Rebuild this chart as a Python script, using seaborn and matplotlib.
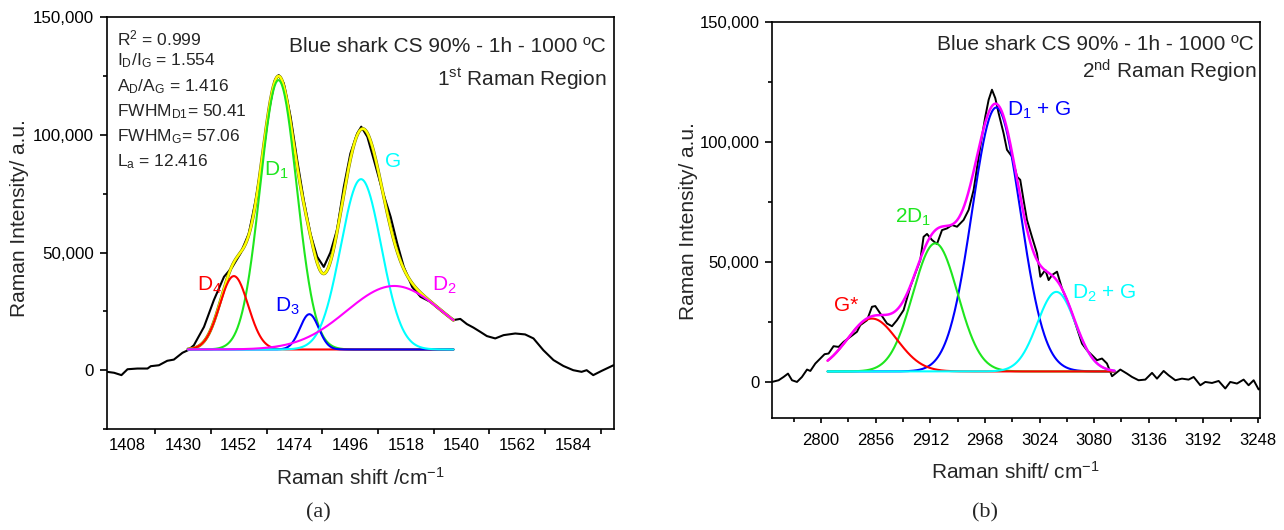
import numpy as np
import pandas as pd
import matplotlib
matplotlib.use("Agg")
import matplotlib.pyplot as plt
import matplotlib.patheffects as pe
import seaborn as sns
from matplotlib.ticker import FixedLocator, FuncFormatter

# ======================= DATA =======================
# ---- Panel (a): 1st Raman region ----
a_raw_x = [1400.0, 1402.8, 1405.7, 1408.1, 1412.0, 1416.0, 1417.3, 1420.5, 1423.8, 1426.4,
           1429.8, 1432.0, 1434.3, 1438.3, 1442.2, 1446.2, 1449.5, 1452.7, 1456.0, 1458.7,
           1461.3, 1463.9, 1466.3, 1467.8, 1469.8, 1472.5, 1475.1, 1477.7, 1480.3, 1483.0,
           1485.6, 1488.2, 1490.9, 1493.5, 1496.1, 1498.8, 1500.4, 1502.8, 1505.4, 1508.7,
           1512.0, 1514.6, 1517.2, 1520.5, 1523.8, 1527.8, 1531.7, 1536.8, 1539.5, 1542.1,
           1544.7, 1547.4, 1550.0, 1553.3, 1556.6, 1561.2, 1565.1, 1568.4, 1572.3, 1576.3,
           1580.2, 1584.1, 1587.4, 1589.4, 1592.0, 1595.3, 1600.0]
a_raw_y = [-700, -1100, -2100, 400, 700, 700, 1700, 2100, 4000, 4500,
           7400, 8500, 10600, 18400, 29800, 39700, 43900, 49600, 58100, 72300,
           89300, 110600, 123300, 125400, 121900, 107700, 89300, 72300, 58100, 48200,
           43900, 50000, 60000, 77900, 92100, 100600, 103500, 99200, 89300, 76500,
           65200, 53900, 43900, 35400, 31200, 29000, 25500, 21300, 21800, 19600,
           18100, 16300, 14500, 13500, 14900, 15600, 15200, 13500, 8500, 4300,
           1800, 0, -700, 0, -2100, -300, 2100]

a_peaks = ["D4", "D1", "D3", "G", "D2"]
a_centers = [1450.1, 1467.7, 1479.9, 1500.3, 1513.4]
a_amps = [31200, 114500, 15000, 72400, 27000]
a_sigmas = [5.6, 7.2, 3.7, 8.0, 18.8]
a_baseline = 8800
a_fit_range = [1432.0, 1536.8]
a_colors = {"D4": "#ff0000", "D1": "#1ee61e", "D3": "#0000ff", "G": "#00ffff", "D2": "#ff00ff"}
a_draw_order = ["D1", "D4", "D3", "G", "D2"]
a_xticklabels = [1408, 1430, 1452, 1474, 1496, 1518, 1540, 1562, 1584]
a_xtickmarks = [1419, 1441, 1463, 1485, 1507, 1529, 1551, 1573, 1595]
a_yticks = [0, 50000, 100000, 150000]
a_yminor = [-25000, 25000, 75000, 125000]
a_stats = [r"R$^2$ = 0.999",
           r"I$_\mathrm{D}$/I$_\mathrm{G}$ = 1.554",
           r"A$_\mathrm{D}$/A$_\mathrm{G}$ = 1.416",
           r"FWHM$_\mathrm{D1}$= 50.41",
           r"FWHM$_\mathrm{G}$= 57.06",
           r"L$_\mathrm{a}$ = 12.416"]
a_peak_labels = [r"D$_4$", r"D$_1$", r"D$_3$", "G", r"D$_2$"]
a_label_x = [1440.5, 1466.9, 1471.3, 1513.1, 1533.2]
a_label_y = [36100, 85000, 27200, 88900, 36100]

# ---- Panel (b): 2nd Raman region ----
b_raw_x = [2749.7, 2756.5, 2761.6, 2766.1, 2770.2, 2775.3, 2780.4, 2785.6, 2789.0, 2794.1,
           2799.2, 2803.6, 2807.7, 2812.8, 2818.0, 2823.1, 2830.0, 2836.8, 2840.2, 2847.1,
           2852.2, 2855.6, 2860.7, 2867.6, 2872.7, 2877.8, 2884.6, 2891.5, 2896.6, 2901.7,
           2905.1, 2908.6, 2913.7, 2918.8, 2924.0, 2929.1, 2934.2, 2939.4, 2946.1, 2951.3,
           2956.4, 2963.2, 2968.4, 2971.8, 2975.2, 2978.6, 2982.0, 2987.1, 2990.6, 2995.7,
           3000.9, 3004.2, 3007.6, 3011.1, 3016.2, 3021.4, 3024.8, 3029.9, 3033.3, 3036.8,
           3041.9, 3047.0, 3052.1, 3057.3, 3062.4, 3067.5, 3072.6, 3077.8, 3082.9, 3088.0,
           3093.1, 3098.3, 3106.8, 3113.6, 3118.8, 3125.5, 3132.4, 3139.3, 3144.4, 3151.2,
           3156.3, 3163.2, 3170.0, 3176.8, 3182.0, 3188.8, 3193.9, 3200.8, 3207.6, 3214.4,
           3219.5, 3226.4, 3233.2, 3238.3, 3243.5, 3248.6, 3250.0]
b_raw_y = [125, 830, 2210, 3600, 830, 125, 2200, 5280, 4700, 7780,
           9870, 11670, 11950, 15000, 14700, 16800, 18900, 21000, 23750, 25800,
           31400, 31700, 28600, 24450, 23300, 25800, 30000, 39700, 45300, 50800,
           60500, 61700, 59200, 57500, 63300, 64000, 65400, 64700, 67500, 71700,
           80000, 98000, 110600, 117500, 121700, 118200, 112000, 103600, 96700, 93900,
           85500, 84200, 75800, 67500, 60500, 53600, 43900, 46700, 42500, 44600,
           46000, 39000, 34200, 28600, 22400, 16100, 13300, 11250, 9170, 9870,
           7800, 2500, 5280, 3600, 2200, 830, 1100, 3900, 1500, 4700,
           2900, 830, 1500, 1100, 2200, -1250, 125, -300, 540, -2600,
           125, -540, 1100, -1250, 830, -3000, -2600]

b_peaks = ["G*", "2D1", "D1+G", "D2+G"]
b_centers = [2852.2, 2917.1, 2979.6, 3041.2]
b_amps = [22000, 53300, 109800, 33100]
b_sigmas = [25.5, 23.0, 24.8, 19.5]
b_baseline = 4500
b_fit_range = [2806.7, 3100.9]
b_colors = {"G*": "#ff0000", "2D1": "#1ee61e", "D1+G": "#0000ff", "D2+G": "#00ffff"}
b_draw_order = ["D1+G", "2D1", "G*", "D2+G"]
b_xticks = [2800, 2856, 2912, 2968, 3024, 3080, 3136, 3192, 3248]
b_xminor = [2772, 2828, 2884, 2940, 2996, 3052, 3108, 3164, 3220]
b_yticks = [0, 50000, 100000, 150000]
b_yminor = [25000, 75000, 125000]
b_peak_labels = [r"G*", r"2D$_1$", r"D$_1$ + G", r"D$_2$ + G"]
b_label_x = [2825.9, 2894.6, 2990.9, 3057.6]
b_label_y = [32100, 68750, 113300, 37100]
b_label_ha = ["center", "center", "left", "left"]

# ======================= STYLE =======================
sns.set_style("ticks")
plt.rcParams.update({
    "font.family": ["Liberation Sans", "DejaVu Sans"],
    "mathtext.fontset": "custom",
    "mathtext.rm": "Liberation Sans",
    "mathtext.it": "Liberation Sans:italic",
    "mathtext.bf": "Liberation Sans:bold",
    "axes.linewidth": 1.2,
    "axes.edgecolor": "black",
    "xtick.color": "black",
    "ytick.color": "black",
})

W, H = 1284, 530
fig = plt.figure(figsize=(W / 100, H / 100), dpi=100)
axA = fig.add_axes([107 / W, 1 - 429 / H, (613.5 - 107) / W, (429 - 17.3) / H])
axB = fig.add_axes([772.3 / W, 1 - 418.3 / H, (1260 - 772.3) / W, (418.3 - 21.7) / H])


def build_fit(names, centers, amps, sigmas, base, rng, n=500):
    xs = np.linspace(rng[0], rng[1], n)
    frames = []
    total = np.full(n, float(base))
    for nm, c, a, s in zip(names, centers, amps, sigmas):
        g = a * np.exp(-0.5 * ((xs - c) / s) ** 2)
        total += g
        frames.append(pd.DataFrame({"x": xs, "y": base + g, "peak": nm}))
    return pd.concat(frames, ignore_index=True), pd.DataFrame({"x": xs, "y": total})


fmt = FuncFormatter(lambda v, p: f"{v:,.0f}")

# ---------------- Panel (a) ----------------
compA, sumA = build_fit(a_peaks, a_centers, a_amps, a_sigmas, a_baseline, a_fit_range)
sns.lineplot(x=a_raw_x, y=a_raw_y, color="black", lw=1.5, ax=axA, sort=False,
             estimator=None, errorbar=None)
sns.lineplot(data=sumA, x="x", y="y", color="#ffff00", lw=1.7, ax=axA, estimator=None,
             errorbar=None)
axA.lines[-1].set_path_effects([pe.Stroke(linewidth=2.3, foreground="#6b6b00"), pe.Normal()])
sns.lineplot(data=compA, x="x", y="y", hue="peak", hue_order=a_draw_order,
             palette=a_colors, lw=1.5, ax=axA, legend=False, estimator=None, errorbar=None)

axA.set_xlim(1400, 1600)
axA.set_ylim(-25000, 150000)
axA.xaxis.set_major_locator(FixedLocator(a_xticklabels))
axA.xaxis.set_minor_locator(FixedLocator(a_xtickmarks))
axA.set_xticklabels([str(v) for v in a_xticklabels])
axA.yaxis.set_major_locator(FixedLocator(a_yticks))
axA.yaxis.set_minor_locator(FixedLocator(a_yminor))
axA.yaxis.set_major_formatter(fmt)
axA.tick_params(axis="x", which="major", length=0, pad=6.5, labelsize=12)
axA.tick_params(axis="x", which="minor", length=3.6, width=1.2, direction="out")
axA.tick_params(axis="y", which="major", length=5, width=1.2, pad=4.5, labelsize=12.2,
                direction="out")
axA.tick_params(axis="y", which="minor", length=3.1, width=1.2, direction="out")
axA.set_xlabel("")
axA.set_ylabel("")

for s, yb in zip(a_stats, [0.9310, 0.8842, 0.8193, 0.7586, 0.6979, 0.6371]):
    axA.text(0.0197, yb, s, transform=axA.transAxes, fontsize=12.5, va="baseline", ha="left")
axA.text(0.9846, 0.9164, "Blue shark CS 90% - 1h - 1000 ºC", transform=axA.transAxes,
         fontsize=15, ha="right", va="baseline")
axA.text(0.9866, 0.8331, r"1$^\mathrm{st}$ Raman Region", transform=axA.transAxes,
         fontsize=15, ha="right", va="baseline")
for lab, x, y, nm in zip(a_peak_labels, a_label_x, a_label_y, a_peaks):
    axA.text(x, y, lab, color=a_colors[nm], fontsize=15, ha="center", va="center")

# ---------------- Panel (b) ----------------
compB, sumB = build_fit(b_peaks, b_centers, b_amps, b_sigmas, b_baseline, b_fit_range)
sns.lineplot(x=b_raw_x, y=b_raw_y, color="black", lw=1.4, ax=axB, sort=False,
             estimator=None, errorbar=None)
sns.lineplot(data=compB, x="x", y="y", hue="peak", hue_order=b_draw_order,
             palette=b_colors, lw=1.5, ax=axB, legend=False, estimator=None, errorbar=None)
sns.lineplot(data=sumB, x="x", y="y", color="#ff00ff", lw=1.8, ax=axB, estimator=None,
             errorbar=None)

axB.set_xlim(2750, 3250)
axB.set_ylim(-15000, 150000)
axB.xaxis.set_major_locator(FixedLocator(b_xticks))
axB.xaxis.set_minor_locator(FixedLocator(b_xminor))
axB.set_xticklabels([str(v) for v in b_xticks])
axB.yaxis.set_major_locator(FixedLocator(b_yticks))
axB.yaxis.set_minor_locator(FixedLocator(b_yminor))
axB.yaxis.set_major_formatter(fmt)
axB.tick_params(axis="x", which="major", length=3.6, width=1.2, pad=7, labelsize=12,
                direction="out")
axB.tick_params(axis="x", which="minor", length=3.0, width=1.2, direction="out")
axB.tick_params(axis="y", which="major", length=5, width=1.2, pad=4.3, labelsize=12,
                direction="out")
axB.tick_params(axis="y", which="minor", length=3.2, width=1.2, direction="out")
axB.set_xlabel("")
axB.set_ylabel("")

axB.text(0.9863, 0.9287, "Blue shark CS 90% - 1h - 1000 ºC", transform=axB.transAxes,
         fontsize=15, ha="right", va="baseline")
axB.text(0.9932, 0.8573, r"2$^\mathrm{nd}$ Raman Region", transform=axB.transAxes,
         fontsize=15, ha="right", va="baseline")
for lab, x, y, nm, ha in zip(b_peak_labels, b_label_x, b_label_y, b_peaks, b_label_ha):
    axB.text(x, y, lab, color=b_colors[nm], fontsize=15, ha=ha, va="center")

# ---------------- figure-level labels ----------------
def ftxt(px, py, s, **kw):
    fig.text(px / W, 1 - py / H, s, **kw)

ftxt(20, 218, "Raman Intensity/ a.u.", rotation=90, ha="center", va="center", fontsize=15)
ftxt(689, 221, "Raman Intensity/ a.u.", rotation=90, ha="center", va="center", fontsize=15)
ftxt(360, 478, r"Raman shift /cm$^{-1}$", ha="center", va="center", fontsize=15)
ftxt(1015, 472, r"Raman shift/ cm$^{-1}$", ha="center", va="center", fontsize=15)
ftxt(318, 513, "(a)", ha="center", va="center", fontsize=16, family="Liberation Serif")
ftxt(985, 513, "(b)", ha="center", va="center", fontsize=16, family="Liberation Serif")

fig.savefig("out.png", dpi=100)
